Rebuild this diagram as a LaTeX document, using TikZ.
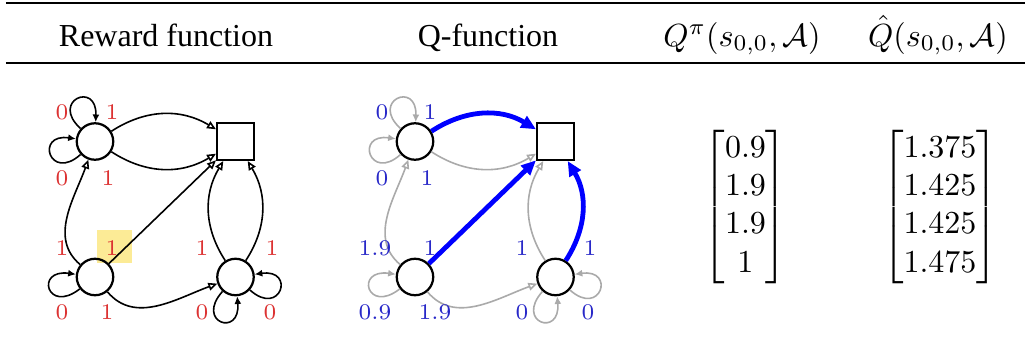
\documentclass[tikz,border=0pt]{standalone}
\usepackage{amsmath}
\usepackage{amssymb}
\usepackage{fontspec}
\usepackage{xcolor}
\usepackage{tikz}
\usetikzlibrary{arrows.meta}
\newfontfamily\headfont{Liberation Serif}
\definecolor{labred}{RGB}{220,50,50}
\definecolor{labblue}{RGB}{40,40,200}
\definecolor{edgegray}{RGB}{170,170,170}
\definecolor{hiyellow}{RGB}{252,235,150}
\delimiterfactor=850

\begin{document}
\begin{tikzpicture}[x=0.3125pt,y=0.3125pt,
	state/.style={circle,draw,line width=0.7pt,minimum size=11.4pt,inner sep=0pt},
	goal/.style={rectangle,draw,line width=0.7pt,minimum size=11.5pt,inner sep=0pt},
	tr/.style={line width=0.5pt,-{Triangle[open,length=2.8pt,width=2.4pt]}},
	lp/.style={line width=0.5pt,-{Latex[length=2.4pt,width=2.2pt]}},
	gtr/.style={tr,draw=edgegray},
	glp/.style={lp,draw=edgegray},
	best/.style={line width=1.5pt,draw=blue,-{Triangle[length=4.6pt,width=4pt]}},
	rlab/.style={text=labred,font=\fontsize{7}{8}\selectfont,inner sep=0pt},
	qlab/.style={text=labblue,font=\fontsize{7}{8}\selectfont,inner sep=0pt},
	head/.style={anchor=base,font=\headfont}]
\useasboundingbox (0,0) rectangle (1025,-351);

\draw[line width=0.8pt] (6,-3) -- (1025,-3);
\draw[line width=0.5pt] (6,-63) -- (1025,-63);
\node[head] (hr) at (166,-46) {Reward function};
\node[head] (hq) at (488,-46) {Q-function};
\node[anchor=base] (hqpi) at (742,-46) {$Q^{\pi}(s_{0,0},\mathcal{A})$};
\node[anchor=base] (hqhat) at (938,-46) {$\hat{Q}(s_{0,0},\mathcal{A})$};

\fill[hiyellow] (97,-230) rectangle (132,-263);

\node[state] (a) at (95,-141.5) {};
\node[goal] (t) at (235.5,-141.5) {};
\node[state] (b) at (95,-277) {};
\node[state] (c) at (235.5,-277) {};

\draw[tr] (a) to[bend left=32] (t);
\draw[tr] (a) to[bend right=32] (t);
\draw[tr] (b) to[out=140,in=250] (a);
\draw[tr] (b) -- (t);
\draw[tr] (b) to[out=-50,in=200] (c);
\draw[tr] (c) to[bend left=32] (t);
\draw[tr] (c) to[bend right=32] (t);
\draw[lp] (a) to[out=138,in=88,distance=13pt] (a);
\draw[lp] (a) to[out=222,in=172,distance=13pt] (a);
\draw[lp] (b) to[out=218,in=172,distance=13pt] (b);
\draw[lp] (c) to[out=228,in=275,distance=13pt] (c);
\draw[lp] (c) to[out=318,in=8,distance=13pt] (c);

\node[rlab] (ra1) at (62,-112) {0};
\node[rlab] (ra2) at (112,-112) {1};
\node[rlab] (ra3) at (62,-178) {0};
\node[rlab] (ra4) at (108,-178) {1};
\node[rlab] (rb1) at (62,-248) {1};
\node[rlab] (rb2) at (112,-248) {1};
\node[rlab] (rb3) at (62,-312) {0};
\node[rlab] (rb4) at (107,-312) {1};
\node[rlab] (rc1) at (202,-248) {1};
\node[rlab] (rc2) at (272,-248) {1};
\node[rlab] (rc3) at (202,-312) {0};
\node[rlab] (rc4) at (270,-312) {0};

\node[state] (qa) at (415,-141.5) {};
\node[goal] (qt) at (555.5,-141.5) {};
\node[state] (qb) at (415,-277) {};
\node[state] (qc) at (555.5,-277) {};

\draw[gtr] (qa) to[bend right=32] (qt);
\draw[gtr] (qb) to[out=140,in=250] (qa);
\draw[gtr] (qb) to[out=-50,in=200] (qc);
\draw[gtr] (qc) to[bend left=32] (qt);
\draw[glp] (qa) to[out=138,in=88,distance=13pt] (qa);
\draw[glp] (qa) to[out=222,in=172,distance=13pt] (qa);
\draw[glp] (qb) to[out=218,in=172,distance=13pt] (qb);
\draw[glp] (qc) to[out=228,in=275,distance=13pt] (qc);
\draw[glp] (qc) to[out=318,in=8,distance=13pt] (qc);
\draw[best] (qa) to[bend left=32] (qt);
\draw[best] (qb) -- (qt);
\draw[best] (qc) to[bend right=32] (qt);

\node[qlab] (qa1) at (382,-112) {0};
\node[qlab] (qa2) at (430,-112) {1};
\node[qlab] (qa3) at (382,-178) {0};
\node[qlab] (qa4) at (427,-178) {1};
\node[qlab] (qb1) at (375,-248) {1.9};
\node[qlab] (qb2) at (430,-248) {1};
\node[qlab] (qb3) at (375,-312) {0.9};
\node[qlab] (qb4) at (435,-312) {1.9};
\node[qlab] (qc1) at (522,-248) {1};
\node[qlab] (qc2) at (590,-248) {1};
\node[qlab] (qc3) at (522,-312) {0};
\node[qlab] (qc4) at (588,-312) {0};

\node (qpi) at (745.5,-207) {$\begin{bmatrix}0.9\\1.9\\1.9\\1\end{bmatrix}$};
\node (qhat) at (940,-207) {$\begin{bmatrix}1.375\\1.425\\1.425\\1.475\end{bmatrix}$};
\end{tikzpicture}
\end{document}
